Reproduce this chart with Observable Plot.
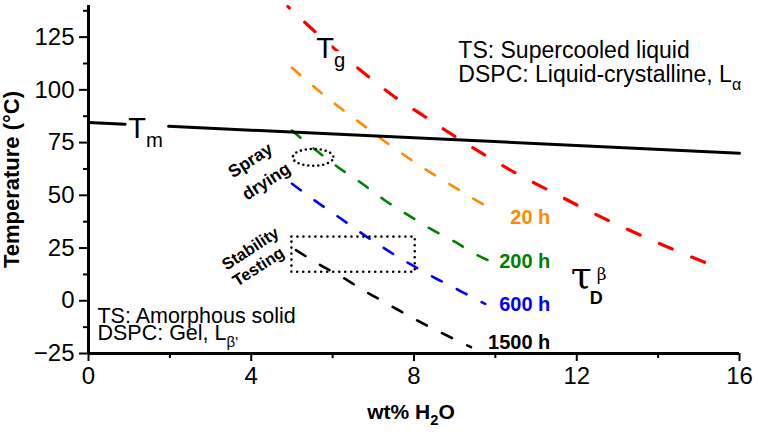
<!DOCTYPE html>
<html>
<head>
<meta charset="utf-8">
<script src="https://cdn.jsdelivr.net/npm/d3@7"></script>
<script src="https://cdn.jsdelivr.net/npm/@observablehq/plot@0.6"></script>
<style>
  html, body { margin: 0; padding: 0; background: #fff; }
</style>
</head>
<body>
<div id="chart"></div>
<script>
// ---- data ----
const tgX = [4.9, 5.4, 6.8, 7.5, 8.25, 9.0, 9.75, 10.55, 11.35, 12.15, 12.95, 13.75, 14.6, 15.6];
const tgY = [139.5, 130.5, 107.5, 97, 87.5, 78, 69, 60, 52, 44, 36.5, 29.5, 22.5, 14.8];

const h20X = [5.0, 5.6, 6.15, 6.7, 7.25, 7.8, 8.35, 8.9, 9.45, 10.0];
const h20Y = [110.5, 100.5, 92, 84, 76, 68.5, 61.5, 55, 48.5, 42.5];

const h200X = [5.0, 5.6, 6.15, 6.73, 7.27, 7.84, 8.4, 9.0, 9.58, 9.9];
const h200Y = [80.7, 71.2, 63.1, 55.5, 47.8, 40.8, 34.2, 28, 21.4, 18.5];

const h600X = [5.0, 5.6, 6.2, 6.75, 7.3, 7.9, 8.5, 9.1, 9.75];
const h600Y = [55.5, 47, 39, 31.5, 24.5, 17.5, 11, 5, -1.5];

const h1500X = [5.1, 5.65, 6.25, 6.8, 7.35, 7.95, 8.6, 9.4];
const h1500Y = [24, 17.5, 11, 4.5, -1.5, -8, -14.5, -22];

// Tm line (drawn in two pieces, gap for its label)
const tmSeg = [1, 1, 2, 2];
const tmX = [0, 0.9, 1.97, 16];
const tmY = [84.5, 83.7, 82.7, 70];

// annotated regions
const sprayCx = 5.52, sprayCy = 68, sprayRx = 0.5, sprayRy = 4.0;
const stabX1 = 5.0, stabX2 = 8.03, stabY1 = 13.5, stabY2 = 30.2;

const curveLabels = ["20 h", "200 h", "600 h", "1500 h"];
const curveLabelY = [36.5, 15.7, -4.7, -22.8];
const curveColors = ["#ff8a00", "#008000", "#0000ff", "#000000"];

const xTicks = [0, 4, 8, 12, 16];
const xMinorTicks = [2, 6, 10, 14];
const yTicks = [-25, 0, 25, 50, 75, 100, 125];
const yMinorTicks = [-12.5, 12.5, 37.5, 62.5, 87.5, 112.5, 137.5];

// ---- build tables ----
const pts = (xs, ys) => xs.map((x, i) => ({x, y: ys[i]}));
const tgData = pts(tgX, tgY);
const h20Data = pts(h20X, h20Y);
const h200Data = pts(h200X, h200Y);
const h600Data = pts(h600X, h600Y);
const h1500Data = pts(h1500X, h1500Y);
const tmData = tmX.map((x, i) => ({x, y: tmY[i], seg: tmSeg[i]}));
const sprayData = d3.range(0, 360, 6).map(a => ({
  x: sprayCx + sprayRx * Math.cos(a * Math.PI / 180),
  y: sprayCy + sprayRy * Math.sin(a * Math.PI / 180)
}));
const stabData = [{x1: stabX1, x2: stabX2, y1: stabY1, y2: stabY2}];
const labelData = curveLabels.map((t, i) => ({t, y: curveLabelY[i], c: curveColors[i]}));

const sans = "Liberation Sans, Arial, Helvetica, sans-serif";
const serif = "DejaVu Serif, Liberation Serif, serif";

const dashed = (data, color, w, dash, off = 0) =>
  Plot.line(data, {x: "x", y: "y", stroke: color, strokeWidth: w, strokeDasharray: dash,
    strokeDashoffset: off, curve: "monotone-x"});

const svg = Plot.plot({
  width: 758,
  height: 434,
  marginLeft: 88,
  marginRight: 19,
  marginTop: 5,
  marginBottom: 81,
  x: {domain: [0, 16], label: null},
  y: {domain: [-25, 140], label: null},
  style: {fontFamily: sans, background: "#fff", color: "#000", overflow: "visible"},
  marks: [
    // curves
    dashed(tgData, "#ff0000", 3.2, "14,21", 12),
    dashed(h20Data, curveColors[0], 2.6, "11,17"),
    dashed(h200Data, curveColors[1], 2.6, "11,17"),
    dashed(h600Data, curveColors[2], 2.6, "11,17"),
    dashed(h1500Data, curveColors[3], 2.6, "11,17"),
    Plot.line(tmData, {x: "x", y: "y", z: "seg", stroke: "#000", strokeWidth: 3}),

    // regions
    Plot.line(sprayData, {x: "x", y: "y", curve: "cardinal-closed", stroke: "#000",
      strokeWidth: 2.6, strokeDasharray: "0,5", strokeLinecap: "round"}),
    Plot.rect(stabData, {x1: "x1", x2: "x2", y1: "y1", y2: "y2", fill: "none", stroke: "#000",
      strokeWidth: 2.6, strokeDasharray: "0,6", strokeLinecap: "round"}),

    // curve labels
    Plot.text(labelData, {x: 11.35, y: "y", text: "t", fill: "c", textAnchor: "end",
      lineAnchor: "bottom", fontSize: 20, fontWeight: "bold"}),

    // big labels
    Plot.text(["T_{g}"], {x: 5.6, y: 115.3, textAnchor: "start", lineAnchor: "bottom", fontSize: 29,
      stroke: "#fff", strokeWidth: 10, paintOrder: "stroke", fill: "#000"}),
    Plot.text(["T_{m}"], {x: 0.98, y: 77.4, textAnchor: "start", lineAnchor: "bottom", fontSize: 29}),
    Plot.text(["τ"], {x: 11.85, y: 6.2, textAnchor: "start", lineAnchor: "bottom", fontSize: 38, fontFamily: serif}),
    Plot.text(["β"], {x: 11.85, y: 6.2, dx: 26, dy: -8, textAnchor: "start", lineAnchor: "bottom", fontSize: 17, fontFamily: serif}),
    Plot.text(["D"], {x: 11.85, y: 6.2, dx: 19, dy: 16, textAnchor: "start", lineAnchor: "bottom", fontSize: 18, fontWeight: "bold"}),

    // phase descriptions
    Plot.text(["TS: Supercooled liquid"], {x: 9.09, y: 115.3, textAnchor: "start", lineAnchor: "bottom", fontSize: 23}),
    Plot.text(["DSPC: Liquid-crystalline, L_{α}"], {x: 9.09, y: 103.5, textAnchor: "start", lineAnchor: "bottom", fontSize: 23}),
    Plot.text(["TS: Amorphous solid"], {x: 0.22, y: -10.4, textAnchor: "start", lineAnchor: "bottom", fontSize: 21.5}),
    Plot.text(["DSPC: Gel, L_{β'}"], {x: 0.22, y: -18.5, textAnchor: "start", lineAnchor: "bottom", fontSize: 21.5}),

    // region labels
    Plot.text(["Spray"], {x: 3.98, y: 66.5, rotate: -33, fontSize: 17.5, fontWeight: "bold"}),
    Plot.text(["drying"], {x: 4.37, y: 56.5, rotate: -33, fontSize: 17.5, fontWeight: "bold"}),
    Plot.text(["Stability"], {x: 3.98, y: 24.6, rotate: -33, fontSize: 16.5, fontWeight: "bold"}),
    Plot.text(["Testing"], {x: 4.18, y: 16.1, rotate: -33, fontSize: 16.5, fontWeight: "bold"}),

    // axis titles
    Plot.text(["wt% H_{2}O"], {frameAnchor: "bottom", textAnchor: "middle", dx: -3, dy: 65, lineAnchor: "bottom", fontSize: 21, fontWeight: "bold"}),
    Plot.text(["Temperature (°C)"], {frameAnchor: "left", textAnchor: "middle", dx: -77, rotate: -90, fontSize: 22, fontWeight: "bold"}),

    // axes
    Plot.axisY({ticks: yTicks, tickSize: 9, tickPadding: 5, fontSize: 24, strokeWidth: 2, label: null}),
    Plot.axisY({ticks: yMinorTicks, tickSize: 5, strokeWidth: 2, tickFormat: () => "", label: null}),
    Plot.axisX({ticks: xTicks, tickSize: 8, tickPadding: 5, fontSize: 24, strokeWidth: 2, label: null}),
    Plot.axisX({ticks: xMinorTicks, tickSize: 5, strokeWidth: 2, tickFormat: () => "", label: null}),
    Plot.ruleX([0], {strokeWidth: 3}),
    Plot.ruleY([-25], {strokeWidth: 3})
  ]
});

document.getElementById("chart").appendChild(svg);

// turn _{...} / ^{...} markup into sub/superscript tspans
function enrich(root) {
  root.querySelectorAll("text").forEach(t => {
    const s = t.textContent;
    if (!/[_^]\{/.test(s)) return;
    const fs = parseFloat(getComputedStyle(t).fontSize) || 12;
    t.textContent = "";
    let cur = 0, m;
    const re = /([_^])\{([^}]*)\}|([^_^]+)/g;
    while ((m = re.exec(s))) {
      const ts = document.createElementNS("http://www.w3.org/2000/svg", "tspan");
      let target, txt, size = null;
      if (m[3] !== undefined) { target = 0; txt = m[3]; }
      else { target = m[1] === "_" ? 0.33 * fs : -0.42 * fs; txt = m[2]; size = 0.7 * fs; }
      ts.setAttribute("dy", (target - cur) + "px");
      cur = target;
      if (size) ts.setAttribute("font-size", size + "px");
      ts.textContent = txt;
      t.appendChild(ts);
    }
  });
}
enrich(svg);
</script>
</body>
</html>
